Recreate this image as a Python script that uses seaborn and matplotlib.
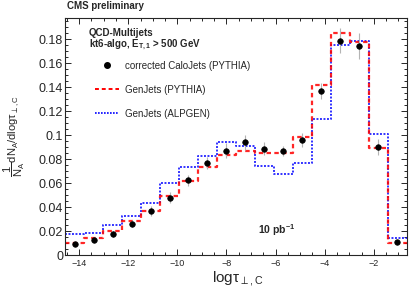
import numpy as np
import pandas as pd
import matplotlib
matplotlib.use("Agg")
import matplotlib.pyplot as plt
import seaborn as sns
from matplotlib.lines import Line2D
from matplotlib.ticker import MultipleLocator, FormatStrFormatter

# bin edges of log(tau_perp,C), 18 bins
edges = np.linspace(-14.57, -0.66, 19)
centers = 0.5 * (edges[:-1] + edges[1:])

# corrected CaloJets (PYTHIA), data points and errors
calo = [0.0089, 0.013, 0.018, 0.0263, 0.0366, 0.048, 0.0623, 0.077, 0.0873,
        0.094, 0.0887, 0.0868, 0.096, 0.137, 0.179, 0.1745, 0.090, 0.0111]
calo_err = [0.0015, 0.002, 0.0025, 0.003, 0.004, 0.0045, 0.0045, 0.005, 0.0065,
            0.006, 0.0055, 0.004, 0.006, 0.007, 0.0105, 0.011, 0.0065, 0.001]

# GenJets (PYTHIA)
pythia = [0.0097, 0.0139, 0.020, 0.0283, 0.0366, 0.049, 0.0615, 0.0735, 0.0837,
          0.0873, 0.0853, 0.0853, 0.0984, 0.142, 0.185, 0.178, 0.0893, 0.0105]

# GenJets (ALPGEN)
alpgen = [0.0172, 0.0186, 0.025, 0.0327, 0.0435, 0.060, 0.0735, 0.0825, 0.0948,
          0.0914, 0.0745, 0.0673, 0.0766, 0.1136, 0.175, 0.1787, 0.101, 0.0139]

df = pd.DataFrame({"x": centers, "calo": calo, "err": calo_err,
                   "pythia": pythia, "alpgen": alpgen})

sns.set_style("ticks")
plt.rcParams["font.family"] = ["Liberation Sans", "DejaVu Sans"]
plt.rcParams["mathtext.fontset"] = "custom"
plt.rcParams["mathtext.rm"] = "Liberation Sans"
plt.rcParams["mathtext.it"] = "Liberation Sans"
plt.rcParams["mathtext.bf"] = "Liberation Sans:bold"

fig = plt.figure(figsize=(4.15, 2.98), dpi=100)
ax = fig.add_axes([0.157, 0.144, 0.823, 0.796])

red_ls = (0, (2.0, 1.5))
blue_ls = (0, (1.0, 0.8))

sns.histplot(data=df, x="x", weights="alpgen", bins=list(edges), element="step",
             fill=False, color="#0000ff", linestyle=blue_ls, linewidth=1.4,
             alpha=0.8, ax=ax)
sns.histplot(data=df, x="x", weights="pythia", bins=list(edges), element="step",
             fill=False, color="#ff0000", linestyle=red_ls, linewidth=1.6,
             alpha=0.85, ax=ax)

ax.errorbar(df["x"], df["calo"], yerr=df["err"], fmt="none", ecolor="#b4b4b4",
            elinewidth=0.8, zorder=3)
sns.scatterplot(data=df, x="x", y="calo", color="black", s=16, edgecolor="black",
                linewidth=0.5, zorder=4, ax=ax)

ax.set_xlim(edges[0], edges[-1])
ax.set_ylim(0, 0.198)

ax.xaxis.set_major_locator(MultipleLocator(2))
ax.xaxis.set_minor_locator(MultipleLocator(0.5))
ax.yaxis.set_major_locator(MultipleLocator(0.02))
ax.yaxis.set_minor_locator(MultipleLocator(0.005))
ax.yaxis.set_major_formatter(FormatStrFormatter("%g"))
ax.tick_params(which="both", direction="in", top=True, right=True, width=0.7)
ax.tick_params(which="major", length=4.5)
ax.tick_params(which="minor", length=2.2)
ax.tick_params(axis="x", labelsize=6.5, pad=3)
ax.tick_params(axis="y", labelsize=9, pad=1.5)
for s in ax.spines.values():
    s.set_linewidth(0.8)

ax.set_xlabel(r"$\mathrm{log}\tau_{\perp,C}$", fontsize=11)
ax.xaxis.set_label_coords(0.506, -0.06)
ax.set_ylabel(r"$\dfrac{1}{N_{A}}dN_{A}/d\mathrm{log}\tau_{\perp,C}$", fontsize=8)
ax.yaxis.set_label_coords(-0.112, 0.5)

fig.text(67 / 415, 1 - 6 / 298, "CMS preliminary", fontsize=7, fontweight="bold",
         va="center", ha="left")
ax.text(0.069, 0.937, "QCD-Multijets", fontsize=7, fontweight="bold",
        transform=ax.transAxes, va="center")
ax.text(0.069, 0.886, r"kt6-algo, $\mathbf{E_{T,1}}$ > 500 GeV", fontsize=7,
        fontweight="bold", transform=ax.transAxes, va="center")
ax.text(0.564, 0.105, r"10 pb$\mathbf{^{-1}}$", fontsize=7.5, fontweight="bold",
        transform=ax.transAxes, va="center")

handles = [
    Line2D([], [], marker="o", color="black", linestyle="none", markersize=4),
    Line2D([], [], color="#ff0000", linestyle=red_ls, linewidth=1.4),
    Line2D([], [], color="#0000ff", linestyle=blue_ls, linewidth=1.2),
]
labels = ["corrected CaloJets (PYTHIA)", "GenJets (PYTHIA)", "GenJets (ALPGEN)"]
ax.legend(handles, labels, loc="upper left", bbox_to_anchor=(0.087, 0.82),
          frameon=False, fontsize=7, handlelength=2.5, handletextpad=0.6,
          labelspacing=1.45, borderpad=0, borderaxespad=0)

fig.savefig("out.png", dpi=100)
